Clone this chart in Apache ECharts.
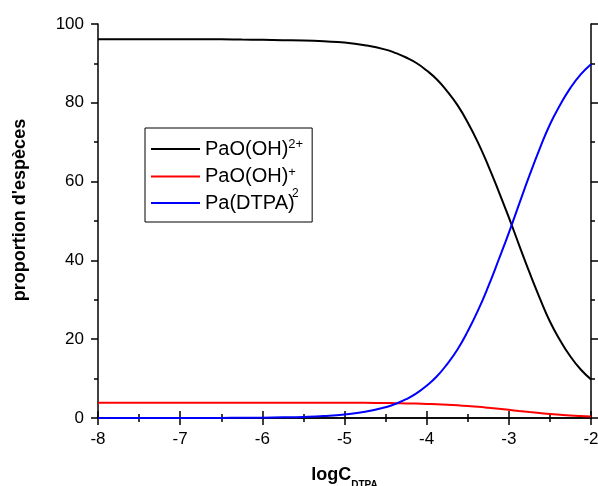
<!DOCTYPE html>
<html><head><meta charset="utf-8">
<script src="https://cdn.jsdelivr.net/npm/echarts@6/dist/echarts.min.js"></script>
<style>html,body{margin:0;padding:0;background:#fff}#c{width:598px;height:486px}</style>
</head><body><div id="c"></div>
<script>
var logC = [-8,-7.75,-7.5,-7.25,-7,-6.75,-6.5,-6.25,-6,-5.75,-5.5,-5.25,-5,-4.75,-4.5,-4.375,-4.25,-4.125,-4,-3.875,-3.75,-3.625,-3.5,-3.375,-3.25,-3.125,-3,-2.875,-2.75,-2.625,-2.5,-2.375,-2.25,-2.125,-2];
var paoOH2 = [96.1,96.1,96.1,96.1,96.1,96.1,96.1,96.05,96.0,95.9,95.8,95.6,95.3,94.6,93.5,92.6,91.5,90.1,88.2,85.9,82.9,79.4,75.0,69.9,64.0,57.6,50.9,43.9,37.0,30.5,24.5,19.7,15.6,12.3,9.8];
var paoOH = [3.9,3.9,3.9,3.9,3.9,3.9,3.9,3.9,3.9,3.9,3.9,3.88,3.87,3.84,3.79,3.76,3.71,3.66,3.58,3.49,3.37,3.22,3.04,2.84,2.60,2.34,2.07,1.78,1.50,1.24,0.99,0.80,0.63,0.50,0.40];
var paDTPA = [0,0,0,0.01,0.01,0.02,0.03,0.05,0.09,0.16,0.28,0.50,0.88,1.56,2.74,3.62,4.77,6.26,8.2,10.6,13.7,17.4,22.0,27.3,33.4,40.1,47.0,54.3,61.5,68.3,74.5,79.5,83.8,87.2,89.8];
var seriesNames = ['PaO(OH)2+','PaO(OH)+','Pa(DTPA)'];
var xTicks = [-8,-7,-6,-5,-4,-3,-2];
var yTicks = [0,20,40,60,80,100];

function pairs(ys){ return logC.map(function(x,i){ return [x, ys[i]]; }); }
var F = 'Arial, "Liberation Sans", sans-serif';
var axisLine = {show:true, lineStyle:{color:'#000', width:1.5}};
var tick = {show:true, inside:false, length:7, lineStyle:{color:'#000', width:1.5}};
var minor = {show:true, splitNumber:2, length:4, lineStyle:{color:'#000', width:1.5}};
var chart = echarts.init(document.getElementById('c'), null, {renderer:'canvas'});
var mk = function(name, ys, color){
  return {name:name, type:'line', data:pairs(ys), smooth:true, showSymbol:false, symbol:'none',
    lineStyle:{color:color, width:2}, itemStyle:{color:color}, animation:false};
};
chart.setOption({
  animation:false,
  backgroundColor:'#fff',
  grid:{left:98, right:7, top:24, bottom:68, containLabel:false, outerBoundsMode:'none'},
  xAxis:[{
    type:'value', min:xTicks[0], max:xTicks[xTicks.length-1], interval:1, position:'bottom',
    axisLine:axisLine, splitLine:{show:false}, axisTick:tick, minorTick:minor,
    axisLabel:{color:'#000', fontFamily:F, fontSize:17, margin:13},
    name:'{b|logC}{s|DTPA}', nameLocation:'middle', nameGap:44,
    nameTextStyle:{rich:{b:{fontFamily:F, fontWeight:'bold', fontSize:18, color:'#000', verticalAlign:'bottom', lineHeight:22},
      s:{fontFamily:F, fontWeight:'bold', fontSize:10, color:'#000', verticalAlign:'bottom', lineHeight:22, padding:[0,0,-6,0]}}}
  },{
    type:'value', min:xTicks[0], max:xTicks[xTicks.length-1], interval:1, position:'top',
    axisLine:axisLine, splitLine:{show:false}, axisTick:tick, minorTick:minor,
    axisLabel:{show:false}
  }],
  yAxis:[{
    type:'value', min:yTicks[0], max:yTicks[yTicks.length-1], interval:20, position:'left',
    axisLine:axisLine, splitLine:{show:false}, axisTick:tick, minorTick:minor,
    axisLabel:{color:'#000', fontFamily:F, fontSize:17, margin:14},
    name:"proportion d'espèces", nameLocation:'middle', nameGap:69, nameRotate:90,
    nameTextStyle:{fontFamily:F, fontWeight:'bold', fontSize:18, color:'#000', padding:[0,0,0,22]}
  },{
    type:'value', min:yTicks[0], max:yTicks[yTicks.length-1], interval:20, position:'right',
    axisLine:axisLine, splitLine:{show:false}, axisTick:tick, minorTick:minor,
    axisLabel:{show:false}
  }],
  legend:{
    orient:'vertical', left:145, top:128,
    data:seriesNames.map(function(n){return {name:n, icon:'rect'};}),
    itemWidth:49, itemHeight:2, itemGap:6.5,
    borderColor:'#000', borderWidth:1, borderRadius:0,
    padding:[10,9,9,6],
    selectedMode:false,
    formatter:function(n){
      if(n==='PaO(OH)2+') return '{b|PaO(OH)}{p|2+}';
      if(n==='PaO(OH)+') return '{b|PaO(OH)}{p|+}';
      return '{b|Pa(DTPA)}';
    },
    textStyle:{color:'#000', fontFamily:F, fontSize:20, rich:{
      b:{fontFamily:F, fontSize:20, color:'#000', lineHeight:22, verticalAlign:'middle'},
      p:{fontFamily:F, fontSize:13, color:'#000', lineHeight:22, verticalAlign:'top'}
    }}
  },
  graphic:[{type:'text', left:292, top:188, style:{text:'2', font:'12px Arial, "Liberation Sans", sans-serif', fill:'#000'}}],
  series:[mk(seriesNames[0], paoOH2, '#000000'), mk(seriesNames[1], paoOH, '#ff0000'), mk(seriesNames[2], paDTPA, '#0000ff')]
});
</script></body></html>
